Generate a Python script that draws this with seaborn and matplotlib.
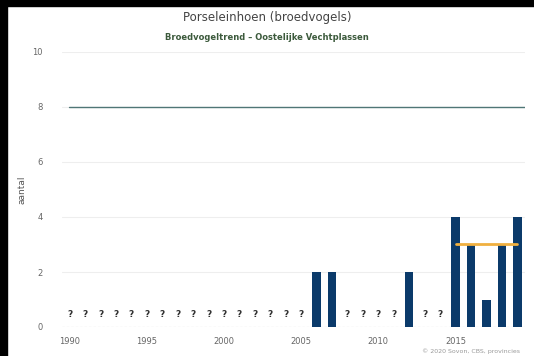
import matplotlib
matplotlib.use("Agg")
import matplotlib.pyplot as plt
import seaborn as sns
import pandas as pd
from matplotlib.patches import Rectangle

# counted years and breeding pairs
bar_years = [2006, 2007, 2012, 2015, 2016, 2017, 2018, 2019]
bar_counts = [2, 2, 2, 4, 3, 1, 3, 4]
# years without a count, shown as "?"
unknown_years = list(range(1990, 2006)) + [2008, 2009, 2010, 2011, 2013, 2014]
# reference level and recent mean
target_level = 8
mean_years = [2015, 2019]
mean_level = 3
x_ticks = [1990, 1995, 2000, 2005, 2010, 2015]
y_ticks = [0, 2, 4, 6, 8, 10]

sns.set_style("white")
plt.rcParams["font.family"] = ["DejaVu Sans"]

fig = plt.figure(figsize=(5.34, 3.56), dpi=100)
ax = fig.add_axes([62 / 534, 1 - 327 / 356, 463 / 534, 275 / 356])

df = pd.DataFrame({"jaar": bar_years, "aantal": bar_counts})
sns.barplot(
    data=df,
    x="jaar",
    y="aantal",
    native_scale=True,
    width=0.55,
    color="#0b3a6a",
    saturation=1,
    linewidth=0,
    ax=ax,
)

for yr in unknown_years:
    ax.text(yr, 0.3, "?", ha="center", va="bottom", fontsize=6.5,
            color="#333333", fontweight="bold")

ax.axhline(target_level, xmin=0.015, color="#4f7676", linewidth=1.0, zorder=1)
ax.plot(mean_years, [mean_level, mean_level], color="#f0b040", linewidth=2, zorder=3)
ax.axhline(0, color="#bbbbbb", linewidth=0.8, linestyle=(0, (2, 2)), zorder=0)

ax.set_xlim(1989.5, 2019.5)
ax.set_ylim(0, 10)
ax.set_xticks(x_ticks)
ax.set_xticklabels([str(t) for t in x_ticks])
ax.set_yticks(y_ticks)
ax.yaxis.grid(True, color="#eeeeee", linewidth=0.8)
ax.set_axisbelow(True)
ax.tick_params(axis="both", labelsize=6, colors="#666666", length=0)
ax.tick_params(axis="x", length=3, color="#cccccc", pad=4)
ax.tick_params(axis="y", pad=14)
sns.despine(ax=ax, left=True, bottom=True)
ax.set_xlabel("")
ax.set_ylabel("aantal", fontsize=6.5, color="#555555", labelpad=4)

fig.text(0.5, 1 - 18 / 356, "Porseleinhoen (broedvogels)", ha="center", va="center",
         fontsize=8.5, color="#444444")
fig.text(0.5, 1 - 38 / 356, "Broedvogeltrend \u2013 Oostelijke Vechtplassen", ha="center",
         va="center", fontsize=6, color="#3c5a3c", fontweight="bold")
fig.text(520 / 534, 1 - 351 / 356, "\u00a9 2020 Sovon, CBS, provincies", ha="right",
         va="center", fontsize=4.5, color="#999999")

# black frame edges on the top and left like the screenshot
fig.patches.append(Rectangle((0, 1 - 6 / 356), 1, 6 / 356, transform=fig.transFigure,
                             color="black", zorder=10))
fig.patches.append(Rectangle((0, 0), 7 / 534, 1, transform=fig.transFigure,
                             color="black", zorder=10))

fig.savefig("out.png", dpi=100)
